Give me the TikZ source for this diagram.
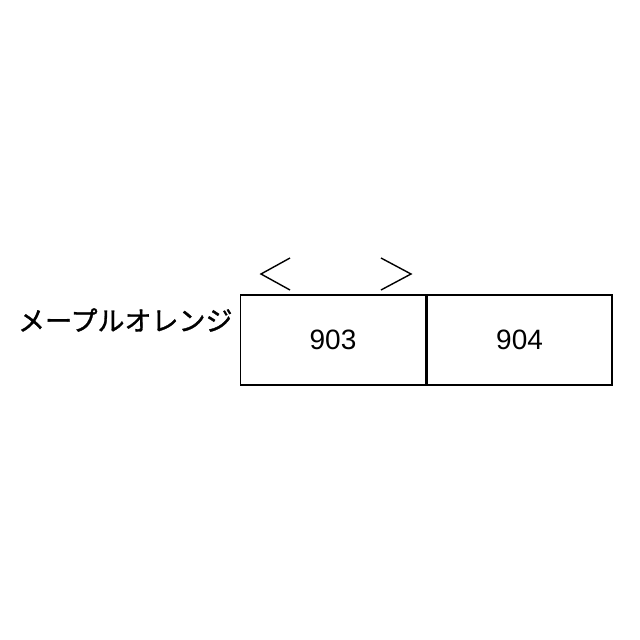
\documentclass[tikz,border=0pt]{standalone}
\usepackage{fontspec}
\setmainfont{Liberation Sans}
\newfontfamily\cjk[FakeBold=1.2]{Noto Sans CJK JP}
\usetikzlibrary{positioning}
\tikzset{
  car/.style={draw, line width=1.6pt, minimum width=185pt, minimum height=90pt,
    inner sep=0pt, font=\fontsize{28}{30}\selectfont},
  dirmark/.style={line width=1.4pt}
}
\begin{document}
\begin{tikzpicture}[x=1pt,y=-1pt]
\useasboundingbox[fill=white] (0,0) rectangle (640,640);
\node[car] (c903) at (333,340) {903};
\node[car, right=0pt of c903] (c904) {904};
\node[left=7pt of c903.west, yshift=20pt, inner sep=0pt, font=\cjk\fontsize{27}{30}\selectfont] (name) {メープルオレンジ};
% direction marks
\draw[dirmark] (290,258) -- (261,274) -- (290,290);
\draw[dirmark] (381,258) -- (411,274) -- (381,290);
\end{tikzpicture}
\end{document}
